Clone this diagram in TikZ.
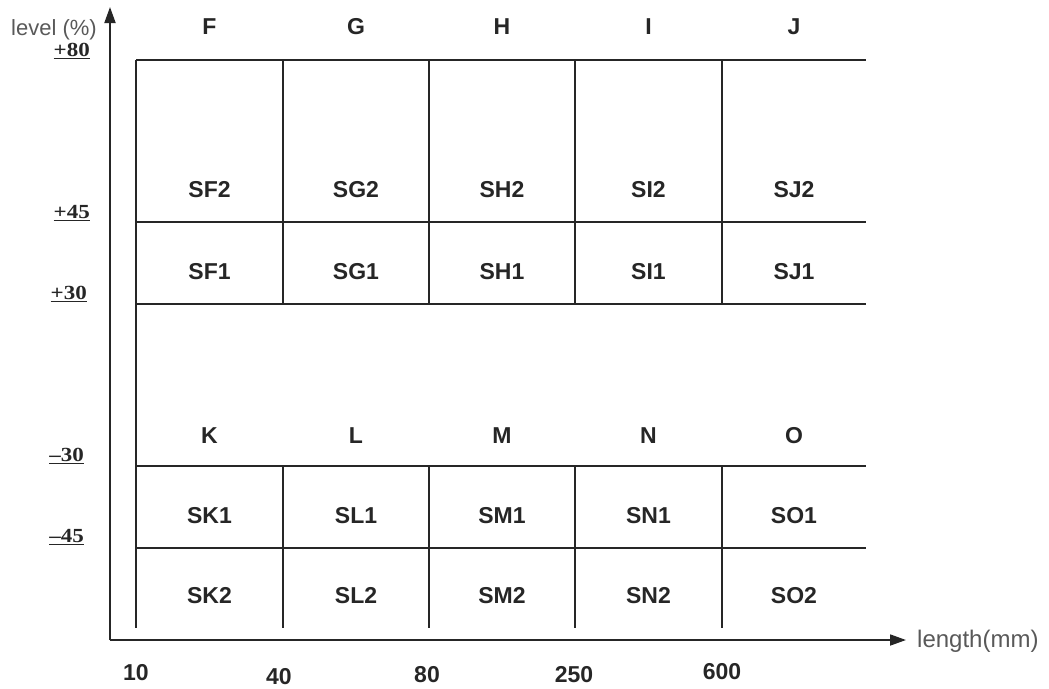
\documentclass[tikz,border=0pt]{standalone}
\usepackage{fontspec}
\setmainfont{Liberation Sans}
\newfontfamily\serifb{Liberation Serif}
\usetikzlibrary{arrows.meta}
\begin{document}
\begin{tikzpicture}[x=1pt,y=-1pt,
  grid/.style={line width=1.6pt,color=black!85},
  axis/.style={line width=1.8pt,color=black!85,-{Triangle[length=16pt,width=11pt]}},
  cell/.style={font=\fontsize{23}{24}\selectfont\bfseries,text=black!85,inner sep=0pt},
  col/.style={font=\fontsize{23}{24}\selectfont\bfseries,text=black!85,inner sep=0pt},
  ylab/.style={font=\serifb\fontsize{20}{22}\selectfont\bfseries,text=black!85,inner sep=0pt,anchor=east,xscale=1.15},
  xlab/.style={font=\fontsize{23}{24}\selectfont\bfseries,text=black!85,inner sep=0pt},
  axlab/.style={font=\fontsize{22}{24}\selectfont,text=black!65,inner sep=0pt}]
\useasboundingbox (0,0) rectangle (1049,688);
% axes
\coordinate (O) at (110,640);
\coordinate (Ytip) at (110,7);
\coordinate (Xtip) at (906,640);
\draw[axis] (O) -- (Ytip);
\draw[axis] (O) -- (Xtip);
\node[axlab,anchor=west,font=\fontsize{24}{26}\selectfont] (xname) at (917,641) {length(mm)};
\node[axlab,anchor=east] (yname) at (97,30) {level (\%)};
% top group horizontal lines
\foreach \y/\n in {60/a,222/b,304/c}{
  \coordinate (tl\n) at (136,\y); \coordinate (tr\n) at (866,\y);
  \draw[grid] (tl\n) -- (tr\n);
}
% bottom group horizontal lines
\foreach \y/\n in {466/d,548/e}{
  \coordinate (tl\n) at (136,\y); \coordinate (tr\n) at (866,\y);
  \draw[grid] (tl\n) -- (tr\n);
}
% left long vertical
\coordinate (Lt) at (136,60); \coordinate (Lb) at (136,628);
\draw[grid] (Lt) -- (Lb);
% other verticals
\foreach \x in {283,429,575,722}{
  \coordinate (vt\x) at (\x,60); \coordinate (vm\x) at (\x,304);
  \coordinate (vn\x) at (\x,466); \coordinate (vb\x) at (\x,628);
  \draw[grid] (vt\x) -- (vm\x);
  \draw[grid] (vn\x) -- (vb\x);
}
% column letters and cells
\foreach \L/\M/\x in {F/K/209.5,G/L/356,H/M/502,I/N/648.5,J/O/794}{
  \node[col] (c\L) at (\x,27) {\L};
  \node[col] (c\M) at (\x,436) {\M};
  \node[cell] (S\L2) at (\x,190) {S\L2};
  \node[cell] (S\L1) at (\x,272) {S\L1};
  \node[cell] (S\M1) at (\x,516) {S\M1};
  \node[cell] (S\M2) at (\x,596) {S\M2};
}
% y labels
\node[ylab] (y80) at (90,51) {\underline{+80}};
\node[ylab] (y45) at (90,213) {\underline{+45}};
\node[ylab] (y30) at (87,294) {\underline{+30}};
\node[ylab] (ym30) at (84,456) {\underline{–30}};
\node[ylab] (ym45) at (84,537) {\underline{–45}};
% x labels
\node[xlab] (x10) at (136,673) {10};
\node[xlab] (x40) at (279,677) {40};
\node[xlab] (x80) at (427,675) {80};
\node[xlab] (x250) at (574,675) {250};
\node[xlab] (x600) at (722,672) {600};
\end{tikzpicture}
\end{document}
